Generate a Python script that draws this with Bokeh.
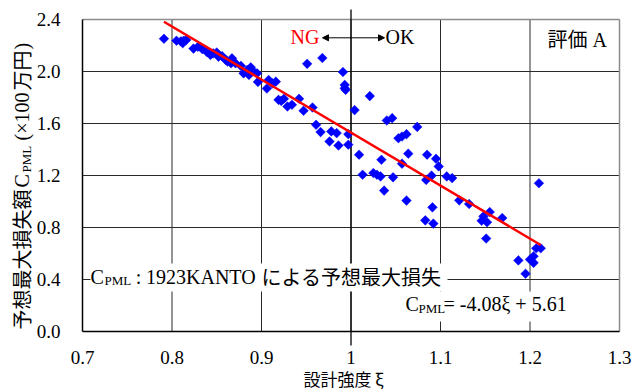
import numpy as np
from bokeh.plotting import figure
from bokeh.models import (FixedTicker, Label, Arrow, NormalHead, BoxAnnotation,
                          Range1d, LinearAxis)
from bokeh.embed import file_html
from bokeh.resources import INLINE

# Design strength ξ and predicted maximum loss C_PML (×100万円) for rank-A buildings
xi = [0.791, 0.805, 0.810, 0.813, 0.816, 0.812, 0.824, 0.829, 0.834, 0.839,
      0.843, 0.846, 0.850, 0.852, 0.856, 0.860, 0.862, 0.866, 0.867, 0.871,
      0.877, 0.880, 0.884, 0.888, 0.886, 0.890, 0.895, 0.896, 0.906, 0.908,
      0.912, 0.916, 0.919, 0.922, 0.925, 0.929, 0.934, 0.942, 0.947, 0.957,
      0.951, 0.968, 0.961, 0.966, 0.978, 0.984, 0.976, 0.986, 0.997, 0.997,
      0.991, 0.993, 0.993, 0.994, 1.004, 1.021, 1.009, 1.013, 1.025, 1.029,
      1.033, 1.034, 1.037, 1.047, 1.053, 1.057, 1.062, 1.074, 1.064, 1.057,
      1.062, 1.085, 1.095, 1.098, 1.090, 1.084, 1.107, 1.113, 1.091, 1.083,
      1.092, 1.040, 1.046, 1.121, 1.132, 1.148, 1.155, 1.152, 1.146, 1.151,
      1.169, 1.210, 1.207, 1.212, 1.187, 1.200, 1.204, 1.204, 1.195]
cpml = [2.252, 2.237, 2.232, 2.237, 2.243, 2.218, 2.176, 2.190, 2.172, 2.150,
        2.127, 2.140, 2.146, 2.114, 2.118, 2.089, 2.078, 2.063, 2.101, 2.063,
        2.043, 1.986, 2.012, 2.032, 1.974, 2.007, 1.986, 1.920, 1.869, 1.935,
        1.909, 1.922, 1.782, 1.774, 1.790, 1.731, 1.744, 1.790, 1.698, 1.723,
        2.059, 2.104, 1.590, 1.534, 1.539, 1.526, 1.462, 1.431, 1.518, 1.437,
        1.996, 1.897, 1.871, 1.859, 1.703, 1.811, 1.360, 1.206, 1.219, 1.206,
        1.193, 1.321, 1.084, 1.186, 1.487, 1.500, 1.518, 1.574, 1.368, 1.291,
        1.007, 1.360, 1.329, 1.270, 1.199, 1.166, 1.193, 1.180, 0.955, 0.855,
        0.830, 1.623, 1.641, 1.009, 0.981, 0.886, 0.919, 0.840, 0.852, 0.715,
        0.873, 1.140, 0.640, 0.640, 0.547, 0.554, 0.579, 0.528, 0.444]

# Regression line C_PML = slope * ξ + intercept
slope = -4.08
intercept = 5.61

x_ticks = [0.7, 0.8, 0.9, 1.0, 1.1, 1.2, 1.3]
x_tick_labels = ["0.7", "0.8", "0.9", "1", "1.1", "1.2", "1.3"]
y_ticks = [0.0, 0.4, 0.8, 1.2, 1.6, 2.0, 2.4]
y_tick_labels = ["0.0", "0.4", "0.8", "1.2", "1.6", "2.0", "2.4"]

SERIF = "Liberation Serif"
JP = "Noto Sans CJK JP"

W, H = 640, 392
# plotting area inside the canvas (pixels)
FL, FT, FW, FH = 82, 19, 537, 312
X0, X1, Y0, Y1 = 0.7, 1.3, 0.0, 2.4


def dx(px):
    return X0 + (px - FL) * (X1 - X0) / FW


def dy(py):
    return Y1 - (py - FT) * (Y1 - Y0) / FH


# the frame spans the whole canvas so that titles and the ξ = 1 marker can
# sit in the margins; axes are pinned to the plotting-area edges
p = figure(frame_width=W, frame_height=H,
           x_range=Range1d(dx(0), dx(W)), y_range=Range1d(dy(H), dy(0)),
           x_axis_location=None, y_axis_location=None,
           output_backend="svg", toolbar_location=None,
           min_border=0, background_fill_color="white",
           border_fill_color="white")
p.outline_line_color = None
p.grid.grid_line_color = None

# grid lines
gx = x_ticks[1:-1]
gy = y_ticks[1:-1]
p.segment(x0=gx, y0=[Y0] * len(gx), x1=gx, y1=[Y1] * len(gx),
          line_color="#2a2a2a", line_width=1)
p.segment(x0=[X0] * len(gy), y0=gy, x1=[X1] * len(gy), y1=gy,
          line_color="#2a2a2a", line_width=1)
# top and right border
p.segment(x0=[X0, X1], y0=[Y1, Y0], x1=[X1, X1], y1=[Y1, Y1],
          line_color="#8c8c8c", line_width=1.5)

# NG / OK divider at ξ = 1, running past the plotting-area edges
p.segment(x0=[1.0], y0=[dy(9)], x1=[1.0], y1=[dy(345)],
          line_color="black", line_width=1.3)

# data points
p.scatter(xi, cpml, marker="square", angle=np.pi / 4, size=6.8,
          fill_color="#0000ff", line_color="#0000ff", line_width=0.5)

# regression line
fit_x = np.array([min(xi), max(xi)])
p.line(fit_x, slope * fit_x + intercept, line_color="#ff0000", line_width=2.5)

# axes
xaxis = LinearAxis(fixed_location=Y0, bounds=(X0, X1),
                   ticker=FixedTicker(ticks=x_ticks),
                   major_label_overrides=dict(zip(x_ticks, x_tick_labels)),
                   major_label_standoff=19)
yaxis = LinearAxis(fixed_location=X0, bounds=(Y0, Y1),
                   ticker=FixedTicker(ticks=y_ticks),
                   major_label_overrides=dict(zip(y_ticks, y_tick_labels)),
                   major_label_standoff=22)
for ax in (xaxis, yaxis):
    ax.major_tick_in = 0
    ax.major_tick_out = 0
    ax.minor_tick_in = 0
    ax.minor_tick_out = 0
    ax.axis_line_color = "black"
    ax.axis_line_width = 1.5
    ax.major_label_text_font = SERIF
    ax.major_label_text_font_size = "19px"
    ax.major_label_text_color = "black"
p.add_layout(xaxis, "below")
p.add_layout(yaxis, "left")

# the label anchor sits about 0.36 em above the text baseline
ANCHOR_SHIFT = 0.36


def lab(px, py, text, font=SERIF, size=20, color="black", align="left",
        angle=0.0):
    """Place text whose baseline starts at canvas pixel (px, py)."""
    if angle == 0.0:
        py = py - ANCHOR_SHIFT * size
    else:
        px = px - ANCHOR_SHIFT * size
    p.add_layout(Label(x=dx(px), y=dy(py), text=text, text_font=font,
                       text_font_size=f"{size}px", text_color=color,
                       text_align=align, text_baseline="alphabetic",
                       angle=angle))


# white boxes behind the two text blocks
p.add_layout(BoxAnnotation(left=dx(90), right=dx(447), bottom=dy(291), top=dy(263),
                           fill_color="white", fill_alpha=1, line_color=None))
p.add_layout(BoxAnnotation(left=dx(400), right=dx(565), bottom=dy(321), top=dy(291),
                           fill_color="white", fill_alpha=1, line_color=None))

# "C_PML : 1923KANTO による予想最大損失"
lab(90, 283.5, "C")
lab(104, 285, "PML", size=13)
lab(138, 283.5, ":", align="center")
lab(145.5, 283.5, "1923KANTO")
lab(261, 283.5, "による予想最大損失", font=JP)

# regression equation
lab(405, 310.5, "C")
lab(418, 313, "PML", size=13)
lab(443, 310.5, f"= {slope:.2f}ξ + {intercept:.2f}")

# panel tag
lab(547, 45.6, "評価", font=JP)
lab(592, 46.7, "A")

# NG <-> OK marker
lab(290, 43.3, "NG", color="#ff0000")
lab(385, 43.3, "OK")
p.add_layout(Arrow(start=NormalHead(size=6, fill_color="black", line_color="black"),
                   end=NormalHead(size=6, fill_color="black", line_color="black"),
                   x_start=dx(322), y_start=dy(37.3), x_end=dx(384), y_end=dy(37.3),
                   line_color="black", line_width=1))

# x-axis title
lab(303, 384.5, "設計強度 ξ", font=JP, size=17)

# y-axis title, written bottom to top
ya = np.pi / 2
lab(28.5, 329, "予想最大損失額", font=JP, angle=ya)
lab(28.5, 187, "C", angle=ya)
lab(31, 172, "PML", size=13, angle=ya)
lab(28.5, 140, "(×100", angle=ya)
lab(28.5, 90, "万円", font=JP, angle=ya)
lab(28.5, 49, ")", angle=ya)

open("out.html", "w").write(file_html(p, INLINE))
